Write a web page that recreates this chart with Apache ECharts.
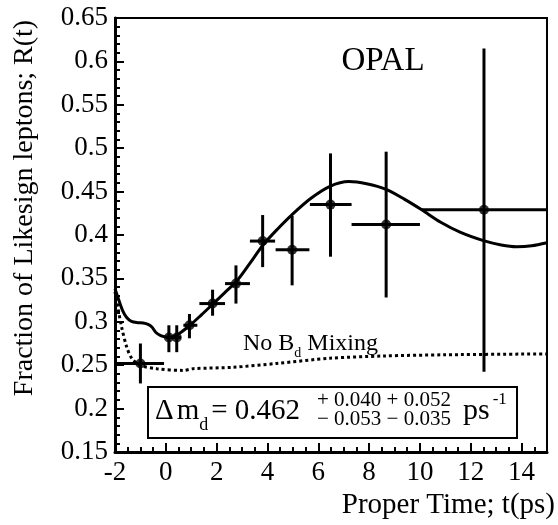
<!DOCTYPE html>
<html>
<head>
<meta charset="UTF-8">
<title>OPAL R(t)</title>
<script src="https://cdn.jsdelivr.net/npm/echarts@6/dist/echarts.min.js"></script>
<style>
    html, body { margin: 0; padding: 0; background: #fff; }
    #main { width: 558px; height: 525px; }
</style>
</head>
<body>
<div id="main"></div>
<script>
// axis ranges / ticks
var xTicks = [-2, 0, 2, 4, 6, 8, 10, 12, 14];
var xRange = [-2, 15];
var yTicks = ['0.15', '0.2', '0.25', '0.3', '0.35', '0.4', '0.45', '0.5', '0.55', '0.6', '0.65'];
var yRange = [0.15, 0.65];

// measured points: t, R, t_lo, t_hi, R_lo, R_hi
var ptT   = [-1.0, 0.12, 0.43, 0.93, 1.84, 2.76, 3.81, 4.97, 6.48, 8.67, 12.52];
var ptR   = [0.252, 0.282, 0.282, 0.296, 0.321, 0.344, 0.393, 0.383, 0.435, 0.412, 0.429];
var ptTlo = [-2.0, 0.0, 0.3, 0.69, 1.32, 2.33, 3.31, 4.32, 5.67, 7.31, 10.07];
var ptThi = [-0.07, 0.3, 0.6, 1.24, 2.33, 3.31, 4.30, 5.65, 7.31, 10.0, 15.0];
var ptRlo = [0.229, 0.265, 0.265, 0.281, 0.307, 0.321, 0.363, 0.342, 0.375, 0.328, 0.2425];
var ptRhi = [0.275, 0.296, 0.296, 0.309, 0.337, 0.365, 0.423, 0.422, 0.494, 0.496, 0.615];

// fit curve (with mixing)
var fitT = [-2, -1.85, -1.7, -1.54, -1.35, -1.1, -0.89, -0.7, -0.55, -0.4, -0.2, 0, 0.2, 0.5, 0.95, 1.4, 1.87, 2.3, 2.79, 3.3, 3.84, 4.4, 4.95, 5.7, 6.46, 7.2, 7.9, 8.67, 9.4, 10.07, 10.8, 11.6, 12.5, 13.2, 13.8, 14.4, 15];
var fitR = [0.338, 0.325, 0.313, 0.305, 0.3005, 0.299, 0.2985, 0.297, 0.294, 0.288, 0.284, 0.2825, 0.2825, 0.286, 0.296, 0.308, 0.321, 0.333, 0.347, 0.367, 0.389, 0.407, 0.423, 0.442, 0.456, 0.4615, 0.459, 0.4525, 0.441, 0.429, 0.415, 0.403, 0.3935, 0.3885, 0.3865, 0.3875, 0.391];

// no Bd mixing curve
var noMixT = [-2, -1.87, -1.74, -1.54, -1.34, -1.02, -0.36, 0.69, 1.08, 2.66, 4.36, 6.46, 8.56, 11, 15];
var noMixR = [0.3347, 0.3136, 0.294, 0.271, 0.258, 0.250, 0.246, 0.244, 0.246, 0.2476, 0.252, 0.258, 0.2606, 0.262, 0.263];

var SERIF = 'Liberation Serif';

function zip(a, b) { return a.map(function (v, i) { return [v, b[i]]; }); }

var errData = ptT.map(function (t, i) {
    return [t, ptR[i], ptTlo[i], ptThi[i], ptRlo[i], ptRhi[i]];
});

// text runs with sub/superscripts, laid out with measured widths
var mctx = document.createElement('canvas').getContext('2d');
function tw(s, size) {
    mctx.font = size + 'px "' + SERIF + '"';
    return mctx.measureText(s).width;
}
function run(parts, x, y, z) {
    var out = [];
    parts.forEach(function (p) {
        if (p.gap) { x += p.gap; return; }
        out.push({
            type: 'text', x: x, y: y + (p.dy || 0), z: z || 10,
            style: { text: p.t, fontFamily: SERIF, fontSize: p.s, fill: '#000', align: 'left', verticalAlign: 'middle' }
        });
        x += tw(p.t, p.s);
    });
    return out;
}

var graphics = [
    { type: 'text', x: 25, y: 208, rotation: Math.PI / 2,
      style: { text: 'Fraction of Likesign leptons; R(t)', fontFamily: SERIF, fontSize: 28, fill: '#000', align: 'center', verticalAlign: 'middle' } },
    { type: 'text', x: 555, y: 505,
      style: { text: 'Proper Time; t(ps)', fontFamily: SERIF, fontSize: 29, fill: '#000', align: 'right', verticalAlign: 'middle' } },
    { type: 'text', x: 383, y: 61,
      style: { text: 'OPAL', fontFamily: SERIF, fontSize: 33, fill: '#000', align: 'center', verticalAlign: 'middle' } },
    { type: 'rect', shape: { x: 148, y: 387, width: 369, height: 51 },
      style: { fill: '#fff', stroke: '#000', lineWidth: 2 }, z: 100 }
];
graphics = graphics.concat(
    run([{ t: 'No B', s: 24 }, { t: 'd', s: 14, dy: 9 }, { gap: 6 }, { t: 'Mixing', s: 24 }], 243, 344, 10),
    run([{ t: '\u0394', s: 29 }, { gap: 3 }, { t: 'm', s: 29 }, { t: 'd', s: 18, dy: 14 }, { gap: 3 }, { t: '= 0.462', s: 29 }], 155, 411, 101),
    run([{ t: '+ 0.040 + 0.052', s: 21 }], 317, 400, 101),
    run([{ t: '\u2212 0.053 \u2212 0.035', s: 21 }], 317, 419, 101),
    run([{ t: 'ps', s: 30 }, { gap: 3 }, { t: '-1', s: 17, dy: -11 }], 463, 411, 101)
);

var chart = echarts.init(document.getElementById('main'));

chart.setOption({
    animation: false,
    grid: { left: 115, right: 11, top: 18, bottom: 73, show: true, borderColor: '#000', borderWidth: 2 },
    xAxis: {
        type: 'value', min: xRange[0], max: xRange[1], interval: 2,
        axisLine: { onZero: false, lineStyle: { color: '#000', width: 3 } },
        axisTick: { inside: true, length: 9, lineStyle: { color: '#000', width: 2 } },
        minorTick: { show: true, splitNumber: 4, length: 5, lineStyle: { color: '#000', width: 2 } },
        splitLine: { show: false },
        axisLabel: {
            color: '#000', fontFamily: SERIF, fontSize: 27, margin: 7, showMaxLabel: false,
            formatter: function (v) { return xTicks.indexOf(v) >= 0 ? String(v) : ''; }
        }
    },
    yAxis: {
        type: 'value', min: yRange[0], max: yRange[1], interval: 0.05,
        axisLine: { onZero: false, lineStyle: { color: '#000', width: 3 } },
        axisTick: { inside: true, length: 9, lineStyle: { color: '#000', width: 2 } },
        minorTick: { show: true, splitNumber: 5, length: 5, lineStyle: { color: '#000', width: 2 } },
        splitLine: { show: false },
        axisLabel: {
            color: '#000', fontFamily: SERIF, fontSize: 27, margin: 7,
            formatter: function (v) {
                var s = String(Number(v.toFixed(2)));
                return yTicks.indexOf(s) >= 0 ? s : '';
            }
        }
    },
    graphic: graphics,
    series: [
        {
            type: 'line', data: zip(noMixT, noMixR), showSymbol: false, smooth: 0.3,
            lineStyle: { color: '#000', width: 3, type: [3, 3] }, z: 2
        },
        {
            type: 'line', data: zip(fitT, fitR), showSymbol: false, smooth: 0.3,
            lineStyle: { color: '#000', width: 3 }, z: 3
        },
        {
            type: 'custom', data: errData, z: 4,
            renderItem: function (params, api) {
                var x = api.value(0), y = api.value(1);
                var l = api.coord([api.value(2), y]), r = api.coord([api.value(3), y]);
                var b = api.coord([x, api.value(4)]), t = api.coord([x, api.value(5)]);
                var st = { stroke: '#000', lineWidth: 3 };
                return {
                    type: 'group', children: [
                        { type: 'line', shape: { x1: l[0], y1: l[1], x2: r[0], y2: r[1] }, style: st },
                        { type: 'line', shape: { x1: b[0], y1: b[1], x2: t[0], y2: t[1] }, style: st }
                    ]
                };
            }
        },
        {
            type: 'scatter', data: zip(ptT, ptR), symbol: 'circle', symbolSize: 10,
            itemStyle: { color: '#000' }, z: 5
        }
    ]
});
</script>
</body>
</html>
